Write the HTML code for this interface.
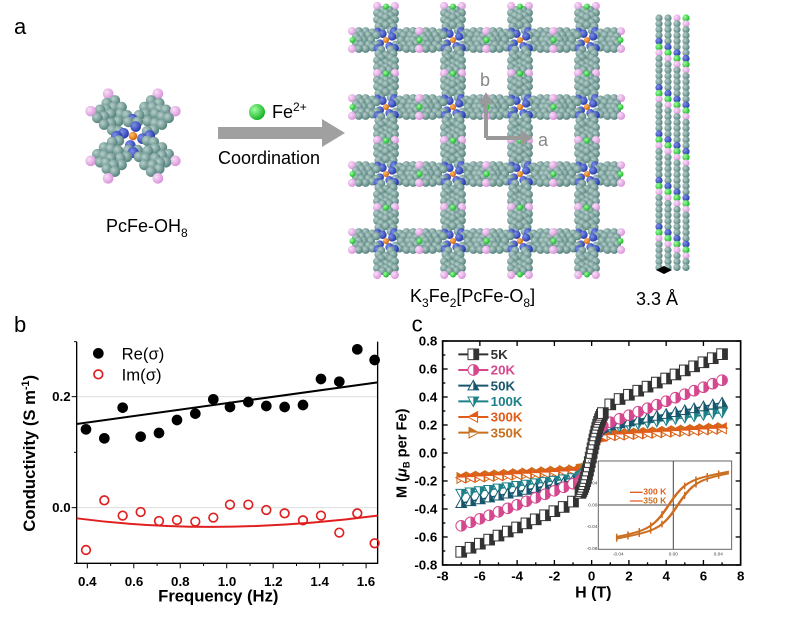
<!DOCTYPE html>
<html><head><meta charset="utf-8"><style>
body{margin:0;background:#fff;}
svg{display:block;font-family:"Liberation Sans",Arial,sans-serif;}
</style></head><body>
<svg id="s" width="803" height="618" viewBox="0 0 803 618" xmlns="http://www.w3.org/2000/svg">
<defs>
<radialGradient id="gt" cx="35%" cy="35%" r="70%"><stop offset="0" stop-color="#b8d0cc"/><stop offset="1" stop-color="#4f7d78"/></radialGradient>
<radialGradient id="gb" cx="35%" cy="35%" r="70%"><stop offset="0" stop-color="#7f90e8"/><stop offset="1" stop-color="#2236a8"/></radialGradient>
<radialGradient id="gp" cx="35%" cy="35%" r="70%"><stop offset="0" stop-color="#f8e0f8"/><stop offset="1" stop-color="#d890d8"/></radialGradient>
<radialGradient id="gg" cx="35%" cy="35%" r="70%"><stop offset="0" stop-color="#a0ffa0"/><stop offset="1" stop-color="#10b020"/></radialGradient>
<radialGradient id="go" cx="35%" cy="35%" r="70%"><stop offset="0" stop-color="#ffc070"/><stop offset="1" stop-color="#d06000"/></radialGradient>
</defs>
<g id="mol"></g>
<text x="14" y="34" font-size="22">a</text>
<text x="106" y="232" font-size="18">PcFe-OH<tspan font-size="12" dy="5">8</tspan></text>
<polygon points="218,127 322,127 322,119 345,133 322,147 322,139 218,139" fill="#a0a0a0"/>
<circle cx="257" cy="112" r="8" fill="url(#gg)"/>
<text x="272" y="118" font-size="18">Fe<tspan font-size="12" dy="-7">2+</tspan></text>
<text x="218" y="164" font-size="18">Coordination</text>
<text x="410" y="302" font-size="18">K<tspan font-size="12" dy="5">3</tspan><tspan dy="-5">Fe</tspan><tspan font-size="12" dy="5">2</tspan><tspan dy="-5">[PcFe-O</tspan><tspan font-size="12" dy="5">8</tspan><tspan dy="-5">]</tspan></text>
<text x="636" y="305" font-size="18">3.3 Å</text>
<polygon points="656,270 664,266 672,270 664,274" fill="#000"/>
<g id="axes"><path d="M486,138 V100 M481,104 L486,96 L491,104" stroke="#999" stroke-width="4" fill="none"/>
<path d="M486,138 H525 M521,133 L529,138 L521,143" stroke="#999" stroke-width="4" fill="none"/>
<text x="480" y="86" font-size="18" fill="#888">b</text><text x="538" y="146" font-size="18" fill="#888">a</text></g>

<text x="14" y="332" font-size="22">b</text>
<g transform="translate(0,310) scale(0.3333)">
<line x1="230" y1="260" x2="1133" y2="260" stroke="#ddd" stroke-width="3"/>
<line x1="230" y1="593" x2="1133" y2="593" stroke="#ddd" stroke-width="3"/>
<path d="M230,95 V760 H1133 V95" fill="none" stroke="#000" stroke-width="4"/>
<g id="bt" stroke="#000" stroke-width="3"></g>
<path d="M230,342 L1133,217" stroke="#000" stroke-width="6" fill="none"/>
<path d="M230,625 Q650,680 1133,617" stroke="#e02020" stroke-width="6" fill="none"/>
<g id="bpts"></g>
<circle cx="295" cy="130" r="16" fill="#000"/><text x="365" y="148" font-size="50">Re(σ)</text>
<circle cx="295" cy="193" r="13" fill="none" stroke="#e02020" stroke-width="5"/><text x="365" y="211" font-size="50">Im(σ)</text>
<g font-size="40" font-weight="bold" text-anchor="end"><text x="212" y="273">0.2</text><text x="212" y="606">0.0</text></g>
<g font-size="40" font-weight="bold" text-anchor="middle"><text x="262" y="828">0.4</text><text x="402" y="828">0.6</text><text x="541" y="828">0.8</text><text x="681" y="828">1.0</text><text x="820" y="828">1.2</text><text x="959" y="828">1.4</text><text x="1098" y="828">1.6</text></g>
<text x="655" y="875" font-size="50" font-weight="bold" text-anchor="middle">Frequency (Hz)</text>
<text transform="translate(105,430) rotate(-90)" font-size="50" font-weight="bold" text-anchor="middle">Conductivity (S m<tspan font-size="32" dy="-18">-1</tspan><tspan dy="18">)</tspan></text>
</g>

<g transform="translate(400,310) scale(0.3333)">
<text x="35" y="65" font-size="66">c</text>
<rect x="128" y="93" width="894" height="672" fill="none" stroke="#000" stroke-width="5"/>
<g id="ct" stroke="#000" stroke-width="4"></g>
<g id="cur"></g>
<g id="leg" font-size="40" font-weight="bold"></g>
<g font-size="40" font-weight="bold" text-anchor="end" id="cyl"></g>
<g font-size="40" font-weight="bold" text-anchor="middle" id="cxl"></g>
<text x="580" y="862" font-size="48" font-weight="bold" text-anchor="middle">H (T)</text>
<text transform="translate(20,430) rotate(-90)" font-size="44" font-weight="bold" text-anchor="middle">M (<tspan font-style="italic">μ</tspan><tspan font-size="28" dy="8">B</tspan><tspan dy="-8"> per Fe)</tspan></text>
<rect x="595" y="453" width="400" height="265" fill="#fff" stroke="#666" stroke-width="3"/>
<line x1="820" y1="453" x2="820" y2="718" stroke="#444" stroke-width="3"/>
<line x1="595" y1="585" x2="995" y2="585" stroke="#444" stroke-width="3"/>
<g id="ins"></g>
<g font-size="14" fill="#444" text-anchor="end"><text x="592" y="458">0.08</text><text x="592" y="524">0.04</text><text x="592" y="589">0.00</text><text x="592" y="654">-0.04</text><text x="592" y="720">-0.08</text></g>
<g font-size="14" fill="#444" text-anchor="middle"><text x="655" y="736">-0.04</text><text x="820" y="736">0.00</text><text x="955" y="736">0.04</text></g>
<g font-size="26" font-weight="bold"><text x="730" y="553" fill="#e06020">300 K</text><text x="730" y="580" fill="#c87020">350 K</text></g>
<path d="M690,547 H728 M690,573 H728" stroke="#e06020" stroke-width="4"/>
</g>
</svg>
<script>
const NS="http://www.w3.org/2000/svg";
function el(p,t,a){const e=document.createElementNS(NS,t);for(const k in a)e.setAttribute(k,a[k]);p.appendChild(e);return e;}
const mol=document.getElementById('mol');
function C(x,y,r,f){el(mol,'circle',{cx:x,cy:y,r:r,fill:f});}
function pc(cx,cy,s,rot,nodePink,ar){
  const atoms=[];
  for(let k=0;k<4;k++){
    const a=rot+k*Math.PI/2, ux=Math.cos(a),uy=Math.sin(a),px=-uy,py=ux;
    const P=(d,w)=>[cx+ux*d*s+px*w*s,cy+uy*d*s+py*w*s];
    [[14,-7],[14,7],[20,-11],[20,11],[26,-7],[26,7],[30,-13],[30,13],[36,-7],[36,7],[40,-13],[40,13],[44,-5],[44,5],[22,0],[33,0],[40,0]].forEach(q=>atoms.push([...P(q[0],q[1]),'url(#gt)']));
    if(nodePink){atoms.push([...P(50,-13),'url(#gp)']);atoms.push([...P(50,13),'url(#gp)']);}
    atoms.push([...P(9,-5),'url(#gb)']);atoms.push([...P(12,-13),'url(#gb)']);
    const b=a+Math.PI/4;atoms.push([cx+Math.cos(b)*17*s,cy+Math.sin(b)*17*s,'url(#gb)']);
  }
  atoms.sort((p,q)=>p[1]-q[1]).forEach(t=>C(t[0],t[1],ar*s,t[2]));
  C(cx,cy,4.5*s,'url(#go)');
}
pc(133,136,0.95,Math.PI/4,true,5.6);
const xs=[386,453,520,587],ys=[40,107,174,241];
for(const y of ys)for(const x of xs)pc(x,y,0.68,0,true,6);
for(const y of ys)for(const x of xs){C(x+33.5,y,3,'url(#gg)');C(x,y+33.5,3,'url(#gg)');C(x-33.5,y,3,'url(#gg)');C(x,y-33.5,3,'url(#gg)');}
const sc=['url(#gt)','url(#gt)','url(#gp)','url(#gt)','url(#gb)','url(#gt)','url(#gt)','url(#gg)'];
for(let c=0;c<4;c++)for(let i=0;i<44;i++){C(659+c*9,18+i*5.8,3.6,sc[(i*3+c*5)%8]);}
const bt=document.getElementById('bt');
for(let i=0;i<=6;i++){const x=262+i*139.4;el(bt,'line',{x1:x,y1:760,x2:x,y2:775});}
for(let i=0;i<6;i++){const x=332+i*139.4;el(bt,'line',{x1:x,y1:760,x2:x,y2:768});}
[260,593].forEach(y=>el(bt,'line',{x1:215,y1:y,x2:230,y2:y}));[427,760,95].forEach(y=>el(bt,'line',{x1:222,y1:y,x2:230,y2:y}));
const bp=document.getElementById('bpts');
const X=[258,313,368,422,477,531,586,640,690,745,799,854,909,963,1018,1072,1124];
const R=[358,385,293,380,369,330,311,268,291,276,288,291,285,207,215,118,150];
const I=[720,571,617,606,633,630,635,623,584,584,600,610,631,617,668,610,700];
X.forEach((x,i)=>{el(bp,'circle',{cx:x,cy:R[i],r:16,fill:'#000'});el(bp,'circle',{cx:x,cy:I[i],r:13,fill:'none',stroke:'#e02020','stroke-width':5});});
const ct=document.getElementById('ct'),cyl=document.getElementById('cyl'),cxl=document.getElementById('cxl');
const hx=h=>575+h*55.9, my=m=>429-m*420;
for(let i=-8;i<=8;i+=2){el(ct,'line',{x1:hx(i),y1:765,x2:hx(i),y2:750});el(ct,'line',{x1:hx(i),y1:93,x2:hx(i),y2:108});const t=el(cxl,'text',{x:hx(i),y:812});t.textContent=i;}
for(let i=-7;i<=7;i+=2){el(ct,'line',{x1:hx(i),y1:765,x2:hx(i),y2:757});}
for(let m=-8;m<=8;m+=2){const y=my(m/10);el(ct,'line',{x1:128,y1:y,x2:143,y2:y});el(ct,'line',{x1:1022,y1:y,x2:1007,y2:y});const t=el(cyl,'text',{x:112,y:y+13});t.textContent=(m/10).toFixed(1);}
for(let m=-7;m<=7;m+=2){const y=my(m/10);el(ct,'line',{x1:128,y1:y,x2:136,y2:y});}
const cur=document.getElementById('cur');
const S=[
 {c:'#333',a:0.3,h:0.5,b:0.058,m:'sq'},
 {c:'#d6488e',a:0.17,h:0.3,b:0.05,m:'ci'},
 {c:'#17566c',a:0.17,h:0.25,b:0.027,m:'tu'},
 {c:'#1e8088',a:0.16,h:0.25,b:0.0186,m:'td'},
 {c:'#e05c18',a:0.12,h:0.15,b:0.008,m:'tl'},
 {c:'#c8701e',a:0.115,h:0.15,b:0.009,m:'tr'}];
function mk(g,m,x,y,c){const r=16;
 if(m=='sq')el(g,'rect',{x:x-r,y:y-r,width:2*r,height:2*r,fill:'#fff',stroke:c,'stroke-width':3}),el(g,'rect',{x:x,y:y-r,width:r,height:2*r,fill:c});
 else if(m=='ci')el(g,'circle',{cx:x,cy:y,r:r,fill:'#fff',stroke:c,'stroke-width':3}),el(g,'path',{d:`M${x},${y-r} A${r},${r} 0 0 1 ${x},${y+r}Z`,fill:c});
 else{let p;if(m=='tu')p=[[x,y-r],[x+r,y+r*0.8],[x-r,y+r*0.8]];else if(m=='td')p=[[x,y+r],[x+r,y-r*0.8],[x-r,y-r*0.8]];else if(m=='tl')p=[[x-r,y],[x+r*0.8,y-r],[x+r*0.8,y+r]];else p=[[x+r,y],[x-r*0.8,y-r],[x-r*0.8,y+r]];
  el(g,'polygon',{points:p.map(q=>q.join(',')).join(' '),fill:'#fff',stroke:c,'stroke-width':3});
  const half=(m=='tu'||m=='td')?`M${x},${p[0][1]} L${p[1][0]},${p[1][1]} L${x},${p[1][1]}Z`:`M${p[0][0]},${y} L${p[1][0]},${p[1][1]} L${p[1][0]},${y}Z`;
  el(g,'path',{d:half,fill:c});}}
S.slice().reverse().forEach(s=>{const f=h=>s.a*Math.tanh(h/s.h)+s.b*h;
 let d='';for(let h=-7;h<=7.001;h+=0.05)d+=(d?'L':'M')+hx(h).toFixed(1)+','+my(f(h)).toFixed(1);
 el(cur,'path',{d:d,stroke:s.c,'stroke-width':5,fill:'none'});
 const pts=[];for(let h=-7;h<=7.01;h+=0.5)if(Math.abs(h)>0.6)pts.push(h);for(let h=-0.6;h<=0.6;h+=0.05)pts.push(h);
 pts.forEach(h=>mk(cur,s.m,hx(h),my(f(h)),s.c));});
const leg=document.getElementById('leg');
const L=['5K','20K','50K','100K','300K','350K'];
S.forEach((s,i)=>{const y=133+i*47;el(leg,'line',{x1:175,y1:y,x2:265,y2:y,stroke:s.c,'stroke-width':6});mk(leg,s.m,220,y,s.c);const t=el(leg,'text',{x:272,y:y+14,fill:i==0?'#333':s.c});t.textContent=L[i];});
const ins=document.getElementById('ins');
const ix=h=>820+h*3400, iy=m=>585-m*1640;
[['#e06020',0.0044],['#c87020',0.0036]].forEach(q=>{const f=(h,sh)=>0.04*Math.tanh((h+sh)/0.015)+0.4*(h+sh);
 [1,-1].forEach(sg=>{let d='';for(let h=-0.05;h<=0.05;h+=0.001)d+=(d?'L':'M')+ix(h).toFixed(1)+','+iy(f(h,sg*q[1])).toFixed(1);
 el(ins,'path',{d:d,stroke:q[0],'stroke-width':5,fill:'none'});
 for(let h=-0.05;h<=0.05;h+=0.01){el(ins,'line',{x1:ix(h),y1:iy(f(h,sg*q[1]))-9,x2:ix(h),y2:iy(f(h,sg*q[1]))+9,stroke:q[0],'stroke-width':4});}});});
</script>
</body></html>
